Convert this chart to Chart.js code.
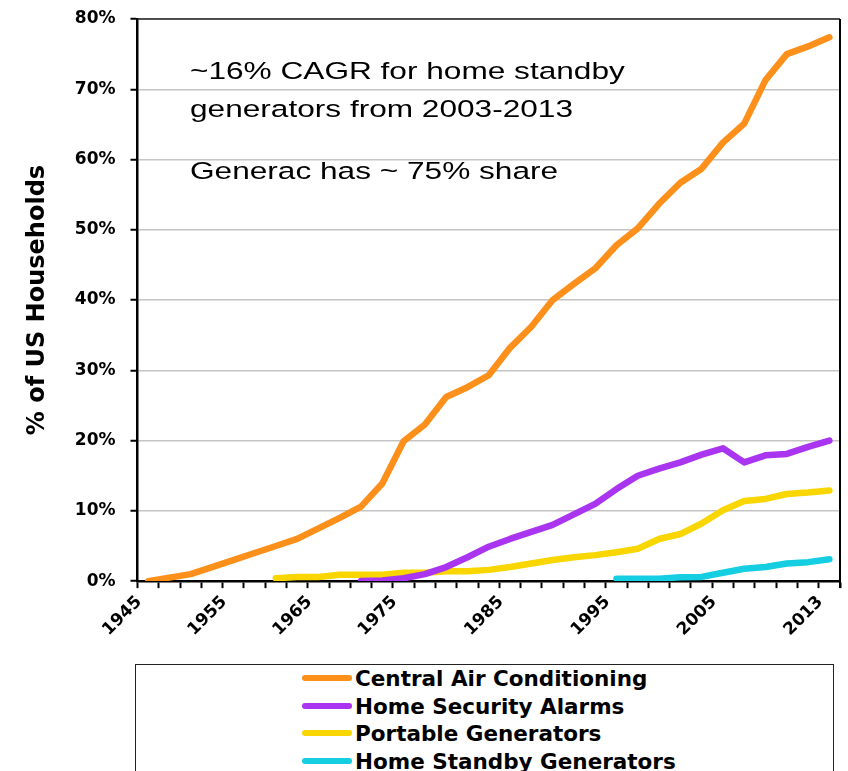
<!DOCTYPE html>
<html>
<head>
<meta charset="utf-8">
<script src="https://cdn.jsdelivr.net/npm/chart.js@4/dist/chart.umd.min.js"></script>
<style>
  body { margin: 0; background: #fff; }
  #wrap { position: relative; width: 848px; height: 771px; overflow: hidden; }
  #box { position: absolute; left: 0; top: 0; width: 848px; height: 664px; }
  #legend { position: absolute; left: 135px; top: 664px; width: 699px; height: 140px;
            border: 1.5px solid #222; box-sizing: border-box; padding: 0 0 0 166px;
            font: bold 21.5px "DejaVu Sans", sans-serif; color: #000; }
  #legend div { height: 27.7px; line-height: 27.7px; white-space: nowrap; }
  #legend span.swatch { display: inline-block; width: 50px; height: 6px; border-radius: 3px;
            vertical-align: middle; margin-right: 3px; position: relative; top: -2px; }
</style>
</head>
<body>
<div id="wrap">
  <div id="box"><canvas id="myChart"></canvas></div>
  <div id="legend"></div>
</div>
<script>
// category years (irregular spacing as in the source chart)
var years = [1945, 1948, 1950, 1953, 1955, 1958, 1960, 1963, 1965, 1968, 1970, 1973,
             1975, 1977, 1979, 1981, 1983, 1985, 1987, 1989, 1991, 1993, 1995, 1997,
             1999, 2001, 2003, 2005, 2007, 2009, 2011, 2012, 2013];
var tickYears = [1945, 1955, 1965, 1975, 1985, 1995, 2005, 2013];

var centralAir = [0, 0.5, 1.0, 2.0, 3.0, 4.0, 5.0, 6.0, 7.5, 9.0, 10.6, 13.9,
                  19.9, 22.3, 26.2, 27.6, 29.3, 33.2, 36.2, 40.0, 42.3, 44.5, 47.8, 50.2,
                  53.7, 56.7, 58.7, 62.4, 65.1, 71.3, 75.0, 76.1, 77.4];
var securityAlarms = [null, null, null, null, null, null, null, null, null, null, 0, 0.1,
                      0.4, 1.0, 2.0, 3.4, 4.9, 6.0, 7.0, 8.0, 9.5, 11.0, 13.1, 15.0,
                      16.0, 16.9, 18.0, 18.9, 16.9, 17.9, 18.1, 19.1, 20.0];
var portableGen = [null, null, null, null, null, null, 0.4, 0.6, 0.6, 0.9, 0.9, 0.9,
                   1.2, 1.2, 1.4, 1.4, 1.6, 2.0, 2.5, 3.0, 3.4, 3.7, 4.1, 4.6,
                   6.0, 6.7, 8.2, 10.1, 11.4, 11.7, 12.4, 12.6, 12.9];
var standbyGen = [null, null, null, null, null, null, null, null, null, null, null, null,
                  null, null, null, null, null, null, null, null, null, null, 0.35, 0.35,
                  0.35, 0.55, 0.6, 1.2, 1.75, 2.0, 2.5, 2.7, 3.1];

var notes = ['~16% CAGR for home standby', 'generators from 2003-2013', 'Generac has ~ 75% share'];

function series(label, data, color) {
  return {
    label: label, data: data, borderColor: color, backgroundColor: color,
    borderWidth: 6.5, pointRadius: 0, tension: 0,
    borderCapStyle: 'round', borderJoinStyle: 'round', spanGaps: false
  };
}

// box around the plot (top + right edges)
var frame = {
  id: 'frame',
  afterDraw: function(chart) {
    var a = chart.chartArea, ctx = chart.ctx;
    ctx.save();
    ctx.strokeStyle = '#222';
    ctx.lineWidth = 1.5;
    ctx.beginPath();
    ctx.moveTo(a.left, a.top);
    ctx.lineTo(a.right, a.top);
    ctx.stroke();
    ctx.lineWidth = 2;
    ctx.strokeStyle = '#000';
    ctx.beginPath();
    ctx.moveTo(a.right, a.top);
    ctx.lineTo(a.right, a.bottom + 7);
    ctx.stroke();
    ctx.restore();
  }
};

// text notes in the plot, stretched a bit wide like the slide
var annot = {
  id: 'annot',
  afterDraw: function(chart) {
    var ctx = chart.ctx;
    var base = [78.5, 116.5, 178.5];
    ctx.save();
    ctx.fillStyle = '#000';
    ctx.font = '24.5px "Liberation Sans", Arial, sans-serif';
    ctx.textBaseline = 'alphabetic';
    for (var i = 0; i < notes.length; i++) {
      ctx.save();
      ctx.translate(190, base[i]);
      ctx.scale(1.29, 1);
      ctx.fillText(notes[i], 0, 0);
      ctx.restore();
    }
    ctx.restore();
  }
};

var ctx = document.getElementById('myChart');
var myChart = new Chart(ctx, {
  type: 'line',
  data: {
    labels: years.map(String),
    datasets: [
      series('Central Air Conditioning', centralAir, '#FD8F1B'),
      series('Home Security Alarms', securityAlarms, '#A935F0'),
      series('Portable Generators', portableGen, '#F9D600'),
      series('Home Standby Generators', standbyGen, '#15CEE2')
    ]
  },
  options: {
    responsive: true,
    maintainAspectRatio: false,
    animation: false,
    layout: { padding: { top: 19, right: 8, left: 23, bottom: 20 } },
    plugins: { legend: { display: false }, tooltip: { enabled: false } },
    scales: {
      x: {
        offset: true,
        grid: { offset: true, drawOnChartArea: false, tickLength: 7, tickColor: '#000', tickWidth: 2 },
        border: { color: '#000', width: 2.5 },
        ticks: {
          autoSkip: false, minRotation: 45, maxRotation: 45, padding: 4, labelOffset: -9,
          color: '#000', font: { family: 'DejaVu Sans', weight: 'bold', size: 17 },
          callback: function(val, i) {
            return tickYears.indexOf(years[i]) >= 0 ? String(years[i]) : '';
          }
        }
      },
      y: {
        min: 0, max: 80,
        grid: { color: '#c4c4c4', lineWidth: 1.5, tickLength: 7, tickColor: '#000', tickWidth: 2 },
        border: { color: '#000', width: 2.5 },
        ticks: {
          stepSize: 10, padding: 15, color: '#000',
          font: { family: 'DejaVu Sans', weight: 'bold', size: 17 },
          callback: function(v) { return v + '%'; }
        },
        title: {
          display: true, text: '% of US Households', color: '#000',
          font: { family: 'DejaVu Sans', weight: 'bold', size: 24 },
          padding: { top: 0, bottom: 8 }
        },
        afterFit: function(scale) {
          // tick padding otherwise pushes the plot top down
          scale.paddingTop = 10;
          scale.paddingBottom = 10;
        }
      }
    }
  },
  plugins: [frame, annot]
});

// legend box below the chart, one item per row
var lg = document.getElementById('legend');
myChart.data.datasets.forEach(function(ds) {
  var row = document.createElement('div');
  var sw = document.createElement('span');
  sw.className = 'swatch';
  sw.style.background = ds.borderColor;
  row.appendChild(sw);
  row.appendChild(document.createTextNode(ds.label));
  lg.appendChild(row);
});
</script>
</body>
</html>
